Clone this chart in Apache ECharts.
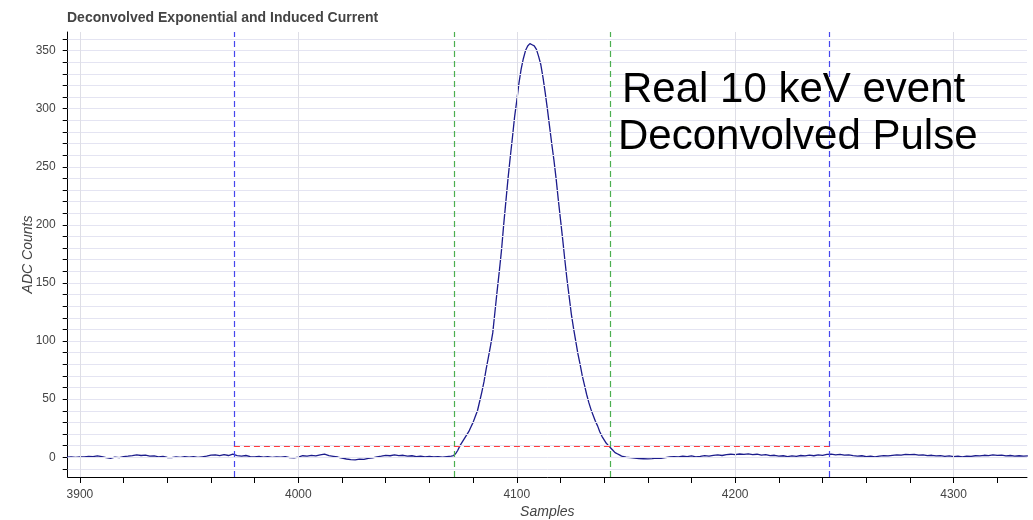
<!DOCTYPE html>
<html><head><meta charset="utf-8">
<script src="https://cdn.jsdelivr.net/npm/echarts@6/dist/echarts.min.js"></script>
<style>html,body{margin:0;padding:0;background:#fff}#c{width:1033px;height:520px}</style>
</head><body><div id="c"></div>
<script>
const titleText = 'Deconvolved Exponential and Induced Current';
const xName = 'Samples';
const yName = 'ADC Counts';
const annotationLines = ['Real 10 keV event', 'Deconvolved Pulse'];
const xMajorTicks = [3900, 4000, 4100, 4200, 4300];
const xAllTicks = [3900, 3920, 3940, 3960, 3980, 4000, 4020, 4040, 4060, 4080, 4100, 4120, 4140, 4160, 4180, 4200, 4220, 4240, 4260, 4280, 4300, 4320];
const yMajorTicks = [0, 50, 100, 150, 200, 250, 300, 350];
const yAllTicks = [-10, 0, 10, 20, 30, 40, 50, 60, 70, 80, 90, 100, 110, 120, 130, 140, 150, 160, 170, 180, 190, 200, 210, 220, 230, 240, 250, 260, 270, 280, 290, 300, 310, 320, 330, 340, 350, 360];

// baseline before pulse: samples 3894..4068 every 2
const preStart = 3894, preStep = 2;
const preValues = [0.0,0.3,-0.2,0.4,0.2,0.8,0.5,1.1,0.6,-0.3,-0.9,0.1,-0.4,0.5,0.9,1.4,2.0,1.5,1.8,0.9,1.2,0.4,0.7,-0.2,-0.4,0.3,-0.1,0.5,0.1,0.6,-0.2,0.4,1.0,1.8,2.1,1.3,2.2,1.5,2.6,1.4,1.0,1.5,0.6,0.2,0.7,0.1,0.5,-0.2,0.3,0.0,0.6,-0.3,-0.5,0.2,1.3,0.9,1.6,1.1,2.0,2.6,1.4,0.8,0.2,-0.8,-1.5,-2.1,-2.3,-1.6,-1.9,-1.0,-0.6,0.3,0.9,1.6,1.3,2.0,1.4,1.7,1.0,1.3,0.6,0.9,0.3,0.7,0.2,0.5,0.1,0.6];
// pulse: samples 4070..4150 every sample
const pulseStart = 4070, pulseStep = 1;
const pulseValues = [1,1.5,3,6,10,13,16,19,22,26,30,35,40,48,56,65,76,86,96,107,125,143,160,178,200,220,240,258,275,293,307,322,334,343,350,354,356,355,354,351,345,338,327,314,300,285,270,256,240,222,205,188,170,153,138,123,111,100,89,80,70,62,54,47,41,36,31,27,22,18,15,12,10,8,6,4,3,2,1,0.5,0];
// baseline after pulse: samples 4152..4334 every 2
const postStart = 4152, postStep = 2;
const postValues = [-0.3,-0.8,-1.2,-1.3,-1.4,-1.1,-0.7,-0.9,-0.3,0.2,0.6,0.3,0.9,0.5,1.1,0.4,0.8,1.4,1.0,1.6,2.0,1.5,2.3,2.6,2.2,2.8,2.4,2.9,2.3,2.6,1.9,2.2,1.4,1.7,1.0,1.3,0.6,1.1,0.8,1.5,1.2,1.8,1.3,2.0,1.6,2.4,2.7,2.1,2.5,1.8,2.1,1.4,1.0,1.3,0.6,0.9,0.4,1.0,1.4,1.1,1.7,2.1,1.8,2.4,2.2,2.5,1.9,2.1,1.4,1.7,1.1,1.4,0.8,1.2,0.6,0.9,0.4,1.0,0.7,1.3,1.1,1.7,1.4,2.0,1.6,1.9,1.2,1.5,0.9,1.3,1.0,1.2];

const windowEdges = [3970.5, 4243.2];      // blue dashed
const integrationEdges = [4071.6, 4143.0]; // green dashed
const thresholdLevel = 9.5;                // red dashed

const xMin = 3894.4, xMax = 4333.6, yMin = -17, yMax = 366;

function seg(start, step, vals) { return vals.map((v, i) => [start + i * step, v]); }
const lineData = seg(preStart, preStep, preValues).concat(seg(pulseStart, pulseStep, pulseValues), seg(postStart, postStep, postValues));

const FONT = '"Liberation Sans", Arial, Helvetica, sans-serif';
const chart = echarts.init(document.getElementById('c'));
const plain = v => String(v);

const gridLines = yAllTicks.map(v => ({ yAxis: v, lineStyle: { color: '#e4e4f2', width: 1, type: 'solid' } }))
  .concat(xMajorTicks.map(v => ({ xAxis: v, lineStyle: { color: '#dedee6', width: 1, type: 'solid' } })));

const dashed = windowEdges.map(v => ({ xAxis: v, lineStyle: { color: '#4646ee', width: 1.2, type: [6, 4] } }))
  .concat(integrationEdges.map(v => ({ xAxis: v, lineStyle: { color: '#4caf50', width: 1.2, type: [6, 4] } })));
dashed.push([{ coord: [windowEdges[0], thresholdLevel], lineStyle: { color: '#ff3b3b', width: 1.2, type: [6, 4] } }, { coord: [windowEdges[1], thresholdLevel] }]);

chart.setOption({
  animation: false,
  title: { text: titleText, left: 62, top: 6, textStyle: { fontSize: 14, fontWeight: 'bold', color: '#444', fontFamily: FONT } },
  grid: { left: 67.7, right: 6, top: 32, bottom: 43, outerBoundsMode: 'none' },
  xAxis: {
    type: 'value', min: xMin, max: xMax,
    axisLine: { show: true, onZero: false, lineStyle: { color: '#000', width: 1 } },
    axisTick: { show: true, customValues: xAllTicks, length: 6, lineStyle: { color: '#000', width: 1 } },
    axisLabel: { show: true, customValues: xMajorTicks, formatter: plain, color: '#444', fontSize: 12, fontFamily: FONT, margin: 12 },
    splitLine: { show: false },
    name: xName, nameLocation: 'middle', nameGap: 28, nameMoveOverlap: false,
    nameTextStyle: { fontStyle: 'italic', color: '#444', fontSize: 14, fontFamily: FONT }
  },
  yAxis: {
    type: 'value', min: yMin, max: yMax,
    axisLine: { show: true, onZero: false, lineStyle: { color: '#000', width: 1 } },
    axisTick: { show: true, customValues: yAllTicks, length: 5, lineStyle: { color: '#000', width: 1 } },
    axisLabel: { show: true, customValues: yMajorTicks, formatter: plain, color: '#444', fontSize: 12, fontFamily: FONT, margin: 12 },
    splitLine: { show: false },
    name: yName, nameLocation: 'middle', nameGap: 33, nameMoveOverlap: false,
    nameTextStyle: { fontStyle: 'italic', color: '#444', fontSize: 14, fontFamily: FONT }
  },
  graphic: [
    { type: 'text', x: 622, y: 90, z: 100, style: { text: annotationLines[0], font: '42px ' + FONT, fill: '#000', verticalAlign: 'middle' } },
    { type: 'text', x: 618, y: 137, z: 100, style: { text: annotationLines[1], font: '42px ' + FONT, fill: '#000', verticalAlign: 'middle' } }
  ],
  series: [
    { type: 'line', data: [], silent: true,
      markLine: { silent: true, symbol: 'none', label: { show: false }, data: gridLines } },
    { type: 'line', data: [], silent: true,
      markLine: { silent: true, symbol: 'none', label: { show: false }, data: dashed } },
    { type: 'line', data: lineData, showSymbol: false, symbol: 'none',
      lineStyle: { color: '#1c1c8c', width: 1.3 } }
  ]
});
</script></body></html>
